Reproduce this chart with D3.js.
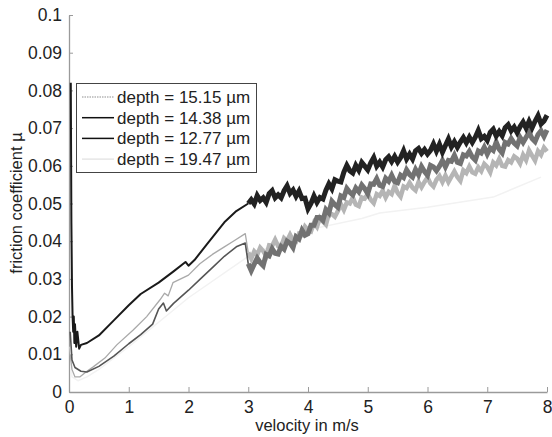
<!DOCTYPE html>
<html lang="en">
<head>
<meta charset="utf-8">
<title>friction coefficient vs velocity</title>
<script src="https://cdn.jsdelivr.net/npm/d3@7"></script>
<style>
body { margin: 0; background: #fff; }
text { font-family: "Liberation Sans", Arial, sans-serif; fill: #222; }
</style>
</head>
<body>
<script>
// legend labels, in legend order
var depthLabels = ["depth = 15.15 \u00b5m", "depth = 14.38 \u00b5m", "depth = 12.77 \u00b5m", "depth = 19.47 \u00b5m"];
var xTicks = [0, 1, 2, 3, 4, 5, 6, 7, 8];
var yTicks = [0, 0.01, 0.02, 0.03, 0.04, 0.05, 0.06, 0.07, 0.08, 0.09, 0.1];
var yTickLabels = ["0", "0.01", "0.02", "0.03", "0.04", "0.05", "0.06", "0.07", "0.08", "0.09", "0.1"];

// smooth start of each curve (velocity, friction)
var d1515x = [0.02, 0.05, 0.1, 0.18, 0.3, 0.4, 0.6, 0.8, 1.07, 1.3, 1.52, 1.6, 1.66, 1.74, 2.0, 2.19, 2.4, 2.6, 2.75, 2.95, 3.0];
var d1515y = [0.010, 0.006, 0.004, 0.004, 0.0055, 0.0066, 0.009, 0.0125, 0.0164, 0.020, 0.0244, 0.0262, 0.0255, 0.029, 0.031, 0.034, 0.0365, 0.0385, 0.040, 0.042, 0.037];

var d1438x = [0.03, 0.04, 0.05, 0.06, 0.07, 0.08, 0.09, 0.1, 0.12, 0.14, 0.17, 0.2, 0.3, 0.5, 0.75, 1.0, 1.2, 1.5, 1.75, 1.95, 2.0, 2.1, 2.3, 2.6, 2.8, 3.0];
var d1438y = [0.082, 0.045, 0.028, 0.020, 0.016, 0.020, 0.013, 0.018, 0.012, 0.016, 0.0115, 0.0125, 0.013, 0.015, 0.019, 0.023, 0.026, 0.029, 0.032, 0.0345, 0.0335, 0.035, 0.039, 0.045, 0.048, 0.050];

var d1277x = [0.02, 0.05, 0.1, 0.2, 0.3, 0.5, 0.75, 1.0, 1.2, 1.4, 1.5, 1.58, 1.63, 1.75, 2.0, 2.2, 2.4, 2.6, 2.8, 2.95, 3.0];
var d1277y = [0.016, 0.0085, 0.0065, 0.0055, 0.0053, 0.0068, 0.0095, 0.0128, 0.0152, 0.018, 0.022, 0.0236, 0.0215, 0.0235, 0.027, 0.030, 0.033, 0.036, 0.0385, 0.0395, 0.034];

var d1947x = [0.02, 0.05, 0.15, 0.3, 0.5, 1.0, 2.0, 3.0, 4.0, 4.9, 5.2, 6.0, 7.1, 7.9];
var d1947y = [0.012, 0.004, 0.003, 0.004, 0.006, 0.012, 0.025, 0.036, 0.043, 0.046, 0.0475, 0.049, 0.0517, 0.057];

// noisy part, velocity 3.05 .. 8.00 in steps of 0.05
var noisyX = d3.range(61, 161).map(function(i) { return i / 20; });

var n1438 = [0.0510, 0.0499, 0.0521, 0.0508, 0.0515, 0.0503, 0.0526, 0.0534, 0.0515, 0.0523,
  0.0515, 0.0534, 0.0547, 0.0527, 0.0536, 0.0519, 0.0533, 0.0513, 0.0514, 0.0486,
  0.0500, 0.0520, 0.0503, 0.0516, 0.0512, 0.0535, 0.0552, 0.0539, 0.0563, 0.0559,
  0.0557, 0.0583, 0.0601, 0.0587, 0.0581, 0.0601, 0.0588, 0.0609, 0.0599, 0.0589,
  0.0608, 0.0622, 0.0599, 0.0610, 0.0597, 0.0616, 0.0624, 0.0611, 0.0625, 0.0610,
  0.0622, 0.0640, 0.0618, 0.0631, 0.0618, 0.0640, 0.0646, 0.0633, 0.0643, 0.0631,
  0.0641, 0.0658, 0.0639, 0.0657, 0.0636, 0.0654, 0.0671, 0.0650, 0.0664, 0.0649,
  0.0663, 0.0675, 0.0661, 0.0676, 0.0662, 0.0676, 0.0694, 0.0672, 0.0678, 0.0667,
  0.0689, 0.0697, 0.0679, 0.0691, 0.0680, 0.0701, 0.0709, 0.0693, 0.0703, 0.0688,
  0.0704, 0.0716, 0.0700, 0.0718, 0.0701, 0.0718, 0.0733, 0.0711, 0.0719, 0.0734];

var n1277 = [0.0322, 0.0339, 0.0355, 0.0343, 0.0335, 0.0365, 0.0361, 0.0380, 0.0368, 0.0366,
  0.0386, 0.0379, 0.0400, 0.0395, 0.0383, 0.0412, 0.0406, 0.0429, 0.0416, 0.0420,
  0.0442, 0.0442, 0.0463, 0.0463, 0.0455, 0.0484, 0.0475, 0.0506, 0.0497, 0.0490,
  0.0520, 0.0516, 0.0540, 0.0530, 0.0523, 0.0541, 0.0531, 0.0549, 0.0539, 0.0526,
  0.0552, 0.0551, 0.0566, 0.0548, 0.0545, 0.0567, 0.0559, 0.0575, 0.0558, 0.0555,
  0.0575, 0.0569, 0.0589, 0.0577, 0.0570, 0.0590, 0.0576, 0.0598, 0.0585, 0.0575,
  0.0601, 0.0597, 0.0587, 0.0599, 0.0614, 0.0597, 0.0614, 0.0612, 0.0628, 0.0609,
  0.0606, 0.0629, 0.0626, 0.0638, 0.0623, 0.0615, 0.0639, 0.0634, 0.0649, 0.0631,
  0.0647, 0.0641, 0.0663, 0.0644, 0.0634, 0.0662, 0.0658, 0.0672, 0.0660, 0.0653,
  0.0675, 0.0662, 0.0676, 0.0689, 0.0672, 0.0664, 0.0683, 0.0693, 0.0678, 0.0695];

var n1515 = [0.0354, 0.0373, 0.0364, 0.0383, 0.0374, 0.0361, 0.0389, 0.0388, 0.0404, 0.0387,
  0.0385, 0.0408, 0.0401, 0.0417, 0.0402, 0.0399, 0.0420, 0.0417, 0.0439, 0.0430,
  0.0426, 0.0449, 0.0438, 0.0462, 0.0452, 0.0444, 0.0473, 0.0472, 0.0465, 0.0480,
  0.0498, 0.0483, 0.0503, 0.0500, 0.0516, 0.0497, 0.0493, 0.0516, 0.0513, 0.0525,
  0.0510, 0.0501, 0.0525, 0.0520, 0.0534, 0.0516, 0.0531, 0.0525, 0.0547, 0.0528,
  0.0518, 0.0545, 0.0541, 0.0555, 0.0542, 0.0535, 0.0557, 0.0543, 0.0557, 0.0569,
  0.0553, 0.0545, 0.0563, 0.0573, 0.0557, 0.0574, 0.0557, 0.0571, 0.0585, 0.0570,
  0.0560, 0.0588, 0.0581, 0.0598, 0.0583, 0.0579, 0.0596, 0.0586, 0.0605, 0.0597,
  0.0583, 0.0609, 0.0601, 0.0618, 0.0600, 0.0598, 0.0615, 0.0609, 0.0625, 0.0619,
  0.0606, 0.0629, 0.0615, 0.0641, 0.0627, 0.0614, 0.0639, 0.0629, 0.0648, 0.0638];

var W = 552, H = 437;
var svg = d3.select("body").append("svg").attr("width", W).attr("height", H);

var x = d3.scaleLinear().domain([0, 8]).range([69, 547]);
var y = d3.scaleLinear().domain([0, 0.1]).range([392, 15]);

function zip(xs, ys) {
  return xs.map(function(v, i) { return [v, ys[i]]; });
}

var line = d3.line().x(function(d) { return x(d[0]); }).y(function(d) { return y(d[1]); });

// axes (left and bottom only, ticks pointing inward)
var xAxis = d3.axisBottom(x).tickValues(xTicks).tickFormat(d3.format("d")).tickSizeInner(-5).tickSizeOuter(0).tickPadding(9);
var yAxis = d3.axisLeft(y).tickValues(yTicks).tickFormat(function(d, i) { return yTickLabels[i]; }).tickSizeInner(-4).tickSizeOuter(0).tickPadding(7);

var gx = svg.append("g").attr("transform", "translate(0,392)").call(xAxis);
var gy = svg.append("g").attr("transform", "translate(69,0)").call(yAxis);
[gx, gy].forEach(function(g) {
  g.select(".domain").attr("stroke", "#9a9a9a").attr("stroke-width", 1.3);
  g.selectAll(".tick line").attr("stroke", "#9a9a9a");
  g.selectAll(".tick text").style("font-family", "'Liberation Sans', Arial, sans-serif").style("font-size", "17.5px").attr("fill", "#222");
});

// curves, lightest first
var curves = [
  { smooth: zip(d1947x, d1947y), noisy: null, color: "#f2f2f2", w: 1.5 },
  { smooth: zip(d1515x, d1515y), noisy: zip(noisyX, n1515), color: "#a9a9a9", w: 1.3, nColor: "#b5b5b5", nw: 4.5 },
  { smooth: zip(d1277x, d1277y), noisy: zip(noisyX, n1277), color: "#555", w: 1.6, nColor: "#727272", nw: 5 },
  { smooth: zip(d1438x, d1438y), noisy: zip(noisyX, n1438), color: "#1a1a1a", w: 2, nColor: "#222", nw: 5 }
];

curves.forEach(function(c) {
  svg.append("path").datum(c.smooth).attr("d", line)
    .attr("fill", "none").attr("stroke", c.color).attr("stroke-width", c.w).attr("stroke-linejoin", "round");
  if (c.noisy) {
    var pts = [c.smooth[c.smooth.length - 1]].concat(c.noisy);
    svg.append("path").datum(pts).attr("d", line)
      .attr("fill", "none").attr("stroke", c.nColor).attr("stroke-width", c.nw).attr("stroke-linejoin", "miter");
  }
});

// legend
var legColors = ["#b5b5b5", "#111", "#111", "#e6e6e6"];
var legDash = ["1.5,1", null, null, null];
var leg = svg.append("g");
leg.append("rect").attr("x", 76.5).attr("y", 83.5).attr("width", 180).attr("height", 89)
  .attr("fill", "#fff").attr("stroke", "#444").attr("stroke-width", 1);
depthLabels.forEach(function(t, i) {
  var yy = 97 + i * 20.7;
  leg.append("line").attr("x1", 82).attr("x2", 114).attr("y1", yy).attr("y2", yy)
    .attr("stroke", legColors[i]).attr("stroke-width", 1.5).attr("stroke-dasharray", legDash[i]);
  leg.append("text").attr("x", 117).attr("y", yy).attr("dy", "0.35em")
    .style("font-size", "17px").text(t);
});

// axis titles
svg.append("text").attr("x", 307).attr("y", 431).attr("text-anchor", "middle")
  .style("font-size", "16.5px").text("velocity in m/s");
svg.append("text").attr("transform", "translate(22,203) rotate(-90)").attr("text-anchor", "middle")
  .style("font-size", "16.5px").text("friction coefficient \u00b5");
</script>
</body>
</html>
